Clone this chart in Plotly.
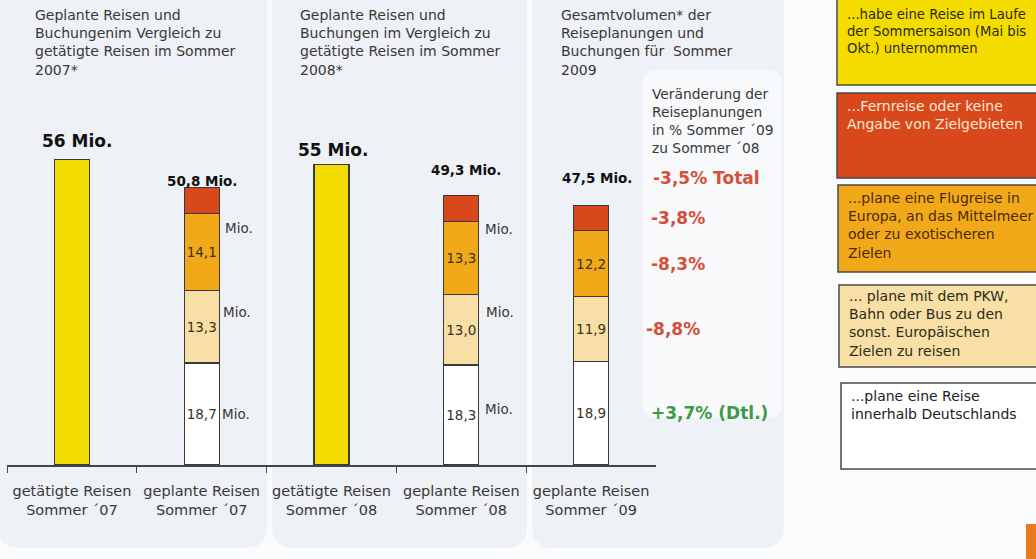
import plotly.graph_objects as go

# ---------------- data ----------------
categories = [
    "getätigte Reisen<br>Sommer ´07",
    "geplante Reisen<br>Sommer ´07",
    "getätigte Reisen<br>Sommer ´08",
    "geplante Reisen<br>Sommer ´08",
    "geplante Reisen<br>Sommer ´09",
]
done_categories = [categories[0], categories[2]]
done_values = [56, 55]

plan_categories = [categories[1], categories[3], categories[4]]
plan_deutschland = [18.7, 18.3, 18.9]
plan_europa_land = [13.3, 13.0, 11.9]
plan_flug = [14.1, 13.3, 12.2]
plan_fern = [4.7, 4.7, 4.5]

totals = [56, 50.8, 55, 49.3, 47.5]
total_labels = ["56 Mio.", "50,8 Mio.", "55 Mio.", "49,3 Mio.", "47,5 Mio."]

change_total_label = "-3,5% Total"
change_labels = ["-3,8%", "-8,3%", "-8,8%", "+3,7% (Dtl.)"]  # fern, flug, europa, dtl

panel_titles = [
    "Geplante Reisen und<br>Buchungenim Vergleich zu<br>getätigte Reisen im Sommer<br>2007*",
    "Geplante Reisen und<br>Buchungen im Vergleich zu<br>getätigte Reisen im Sommer<br>2008*",
    "Gesamtvolumen* der<br>Reiseplanungen und<br>Buchungen für  Sommer<br>2009",
]
change_header = "Veränderung der<br>Reiseplanungen<br>in % Sommer ´09<br>zu Sommer ´08"

legend_texts = [
    "...habe eine Reise im Laufe<br>der Sommersaison (Mai bis<br>Okt.) unternommen",
    "...Fernreise oder keine<br>Angabe von Zielgebieten",
    "...plane eine Flugreise in<br>Europa, an das Mittelmeer<br>oder zu exotischeren<br>Zielen",
    "... plane mit dem PKW,<br>Bahn oder Bus zu den<br>sonst. Europäischen<br>Zielen zu reisen",
    "...plane eine Reise<br>innerhalb Deutschlands",
]

# ---------------- style ----------------
W, H = 1036, 559
FONT = "DejaVu Sans"
C_YELLOW = "#f4dc00"
C_RED = "#d9481b"
C_ORANGE = "#f1a91a"
C_LIGHT = "#f8dfa5"
C_WHITE = "#ffffff"
EDGE = "#3a3a3a"
TXT = "#383838"
RED_TXT = "#d4503a"
GREEN_TXT = "#3f9a48"


def fx(p):
    return p / W


def fy(p):
    return 1 - p / H


def fmt(v):
    return f"{v:.1f}".replace(".", ",")


fig = go.Figure()

bar_w = 0.27
common = dict(width=bar_w, marker_line_color=EDGE, marker_line_width=1.2,
              textposition="inside", insidetextanchor="middle", textangle=0,
              constraintext="none", cliponaxis=False, hoverinfo="skip",
              insidetextfont=dict(family=FONT, size=13.5, color="#3b3222"))

fig.add_trace(go.Bar(x=done_categories, y=done_values, marker_color=C_YELLOW,
                     name="getätigt", **common))
fig.add_trace(go.Bar(x=plan_categories, y=plan_deutschland, marker_color=C_WHITE,
                     text=[fmt(v) for v in plan_deutschland], name="Deutschland", **common))
fig.add_trace(go.Bar(x=plan_categories, y=plan_europa_land, marker_color=C_LIGHT,
                     text=[fmt(v) for v in plan_europa_land], name="Europa PKW", **common))
fig.add_trace(go.Bar(x=plan_categories, y=plan_flug, marker_color=C_ORANGE,
                     text=[fmt(v) for v in plan_flug], name="Flug", **common))
fig.add_trace(go.Bar(x=plan_categories, y=plan_fern, marker_color=C_RED,
                     name="Fern", **common))

annotations = []

# totals above the bars
total_style = [  # (xshift, yshift, size)
    (5, 18, 17), (0, 7, 13.5), (1, 15, 17), (5, 26, 13.5), (6, 28, 13.5)
]
for i, (lab, tot) in enumerate(zip(total_labels, totals)):
    xs, ys, sz = total_style[i]
    annotations.append(dict(x=i, y=tot, xref="x", yref="y", text=f"<b>{lab}</b>",
                            showarrow=False, xanchor="center", yanchor="middle",
                            xshift=xs, yshift=ys,
                            font=dict(family=FONT, size=sz, color="#111")))

# "Mio." labels next to planned bars (2007, 2008)
for ci, k in [(1, 0), (3, 1)]:
    top_flug = plan_deutschland[k] + plan_europa_land[k] + plan_flug[k]
    top_land = plan_deutschland[k] + plan_europa_land[k]
    mid_dtl = plan_deutschland[k] / 2
    shifts = [(-15, 4), (-22, 2), (0, 1)] if k == 0 else [(-8, 4), (-18, 5), (6, 4)]
    for (ys, xs), yv in zip(shifts, [top_flug, top_land, mid_dtl]):
        annotations.append(dict(x=ci + bar_w / 2, y=yv, xref="x", yref="y", text="Mio.",
                                showarrow=False, xanchor="left", yanchor="middle",
                                xshift=xs, yshift=ys,
                                font=dict(family=FONT, size=13.5, color=TXT)))

# percentage changes next to the 2009 bar
k = 2
seg_mids = [
    plan_deutschland[k] + plan_europa_land[k] + plan_flug[k] + plan_fern[k] / 2,
    plan_deutschland[k] + plan_europa_land[k] + plan_flug[k] / 2,
    plan_deutschland[k] + plan_europa_land[k] / 2,
    plan_deutschland[k] / 2,
]
chg_xshift = [58, 58, 53, 58]
for lab, yv, xs in zip(change_labels, seg_mids, chg_xshift):
    col = GREEN_TXT if lab.startswith("+") else RED_TXT
    annotations.append(dict(x=4, y=yv, xref="x", yref="y", text=f"<b>{lab}</b>",
                            showarrow=False, xanchor="left", yanchor="middle", xshift=xs,
                            font=dict(family=FONT, size=17, color=col)))
annotations.append(dict(x=4, y=totals[4], xref="x", yref="y",
                        text=f"<b>{change_total_label}</b>",
                        showarrow=False, xanchor="left", yanchor="middle", xshift=60,
                        yshift=28, font=dict(family=FONT, size=17, color=RED_TXT)))

# header of change box
annotations.append(dict(x=fx(650), y=fy(84), xref="paper", yref="paper", text=change_header,
                        showarrow=False, xanchor="left", yanchor="top", align="left",
                        font=dict(family=FONT, size=13.8, color=TXT)))

# panel titles
for t, xp in zip(panel_titles, [33, 298, 559]):
    annotations.append(dict(x=fx(xp), y=fy(5), xref="paper", yref="paper", text=t,
                            showarrow=False, xanchor="left", yanchor="top", align="left",
                            font=dict(family=FONT, size=14, color=TXT)))

shapes = []

# legend boxes (shape + text)
legend_boxes = [  # (left, top, bottom, fill, text color, text top, font size)
    (837, -3, 85, C_YELLOW, "#2a2a10", 5, 13.2),
    (837, 93, 178, C_RED, "#fbe9d6", 96, 14),
    (838, 185, 272, C_ORANGE, "#4a2a05", 188, 14),
    (839, 285, 367, C_LIGHT, "#2e2a20", 286, 14),
    (841, 383, 469, C_WHITE, "#222222", 386, 14),
]
for txt, (lx, ty, by, fill, tc, tt, fs) in zip(legend_texts, legend_boxes):
    shapes.append(dict(type="rect", x0=fx(lx), x1=fx(1045), y0=fy(by), y1=fy(ty),
                       xref="paper", yref="paper", fillcolor=fill,
                       line=dict(color="#4a4a4a", width=1.5)))
    annotations.append(dict(x=fx(lx + 8), y=fy(tt), xref="paper", yref="paper", text=txt,
                            showarrow=False, xanchor="left", yanchor="top", align="left",
                            font=dict(family=FONT, size=fs, color=tc)))


# background panels
def rrect(x0, y0, x1, y1, r, top_round=False):
    if top_round:
        path = (f"M {fx(x0)},{fy(y0 + r)} Q {fx(x0)},{fy(y0)} {fx(x0 + r)},{fy(y0)} "
                f"L {fx(x1 - r)},{fy(y0)} Q {fx(x1)},{fy(y0)} {fx(x1)},{fy(y0 + r)} ")
    else:
        path = f"M {fx(x0)},{fy(y0)} L {fx(x1)},{fy(y0)} "
    path += (f"L {fx(x1)},{fy(y1 - r)} Q {fx(x1)},{fy(y1)} {fx(x1 - r)},{fy(y1)} "
             f"L {fx(x0 + r)},{fy(y1)} Q {fx(x0)},{fy(y1)} {fx(x0)},{fy(y1 - r)} Z")
    return path


for x0, x1 in [(-2, 267), (272, 527), (532, 784)]:
    shapes.append(dict(type="path", path=rrect(x0, -2, x1, 548, 22), xref="paper",
                       yref="paper", fillcolor="#eef1f5", line=dict(width=0), layer="below"))
shapes.append(dict(type="path", path=rrect(643, 70, 782, 418, 14, top_round=True),
                   xref="paper", yref="paper", fillcolor="#f7f9fb",
                   line=dict(width=0), layer="below"))
shapes.append(dict(type="rect", x0=fx(1026), x1=fx(1040), y0=fy(562), y1=fy(524),
                   xref="paper", yref="paper", fillcolor="#ea7a1c", line=dict(width=0)))

fig.update_layout(
    width=W, height=H, margin=dict(l=0, r=0, t=0, b=0),
    barmode="stack", showlegend=False,
    paper_bgcolor="#fafbfc", plot_bgcolor="rgba(0,0,0,0)",
    font=dict(family=FONT, color=TXT),
    xaxis=dict(type="category", categoryorder="array", categoryarray=categories,
               domain=[fx(7), fx(656)], range=[-0.5, 4.5], tickson="boundaries",
               ticks="outside", ticklen=6, tickwidth=1.3, tickcolor="#444",
               ticklabelstandoff=12,
               showline=True, linecolor="#444", linewidth=1.5, showgrid=False,
               zeroline=False, automargin=False, fixedrange=True,
               tickfont=dict(family=FONT, size=14.5, color=TXT)),
    yaxis=dict(domain=[1 - 465 / H, 1], range=[0, 465 / 5.46], visible=False,
               automargin=False, fixedrange=True),
    annotations=annotations, shapes=shapes,
)

fig.write_html("out.html", config={"displayModeBar": False},
               post_script="document.body.style.margin='0';")
